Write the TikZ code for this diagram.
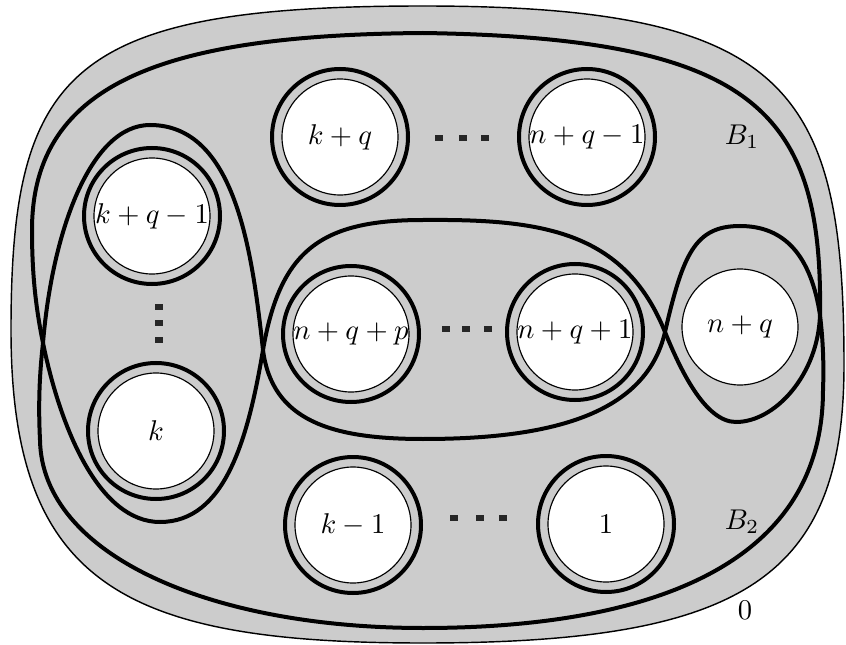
\documentclass[tikz,border=0pt]{standalone}
\begin{document}
\begin{tikzpicture}[x=0.35pt, y=-0.35pt,
    hole/.style={circle, draw, fill=white, minimum size=40.6pt, inner sep=0pt},
    ring/.style={line width=1.4pt},
    bcurve/.style={line width=1.4pt},
    dotbox/.style={rectangle, fill=black!85, minimum width=2.7pt, minimum height=2.1pt, inner sep=0pt}]
  \useasboundingbox (0,0) rectangle (846,645);
  % surface with boundary 0
  \filldraw[fill=black!20, line width=0.5pt] (423,6) .. controls (70,6) and (11,70) .. (11,330)
    .. controls (11,585) and (125,643) .. (423,643)
    .. controls (740,643) and (844,580) .. (844,365)
    .. controls (844,90) and (790,6) .. (423,6) -- cycle;
  % crossings of the two curves
  \coordinate (xl) at (43,343);
  \coordinate (xm1) at (263,350);
  \coordinate (xm2) at (665,332);
  \coordinate (xr) at (820,315);
  % curve B_1
  \draw[bcurve] (423,33) .. controls (753,38) and (823,110) .. (xr)
    .. controls (818,375) and (775,422) .. (736,422)
    .. controls (705,422) and (680,369) .. (xm2)
    .. controls (624,230) and (540,219) .. (423,220)
    .. controls (320,220) and (280,251) .. (xm1)
    .. controls (248,439) and (225,522) .. (160,522)
    .. controls (100,522) and (61,431) .. (xl)
    .. controls (35,304) and (32,270) .. (32,230)
    .. controls (32,80) and (170,35) .. (423,33) -- cycle;
  % curve B_2
  \draw[bcurve] (xr) .. controls (823,340) and (824,365) .. (823,390)
    .. controls (823,580) and (620,628) .. (423,628)
    .. controls (210,628) and (42,555) .. (40,440)
    .. controls (38,400) and (40,370) .. (xl)
    .. controls (52,233) and (90,125) .. (150,125)
    .. controls (235,125) and (252,250) .. (xm1)
    .. controls (272,420) and (330,439) .. (423,439)
    .. controls (540,439) and (645,419) .. (xm2)
    .. controls (683,254) and (695,226) .. (740,226)
    .. controls (785,226) and (811,256) .. (xr) -- cycle;
  % holes
  \node[hole, label=center:{$k+q$}] (kq) at (340,137) {};
  \node[hole, label=center:{$n+q-1$}] (nqm) at (587,137) {};
  \node[hole, label=center:{$k+q-1$}] (kqm) at (152,216) {};
  \node[hole, label=center:{$k$}] (k) at (156,431) {};
  \node[hole, label=center:{$n+q+p$}] (nqp) at (351,334) {};
  \node[hole, label=center:{$n+q+1$}] (nqo) at (575,332) {};
  \node[hole, label=center:{$n+q$}] (nq) at (740,327) {};
  \node[hole, label=center:{$k-1$}] (km) at (353,525) {};
  \node[hole, label=center:{$1$}] (one) at (606,524) {};
  \foreach \h in {kq, nqm, kqm, k, nqp, nqo, km, one}
    \draw[ring] (\h.center) circle[radius=68];
  % dots
  \foreach \x/\y [count=\i] in {439/138, 463/138, 485/138, 446/329, 466/329, 488/329, 454/518, 480/518, 503/518, 159/307, 159/323, 159/340}
    \node[dotbox] (dot\i) at (\x,\y) {};
  % labels
  \node (b1) at (742,137) {$B_1$};
  \node (b2) at (742,522) {$B_2$};
  \node (zero) at (745,610) {$0$};
\end{tikzpicture}
\end{document}
